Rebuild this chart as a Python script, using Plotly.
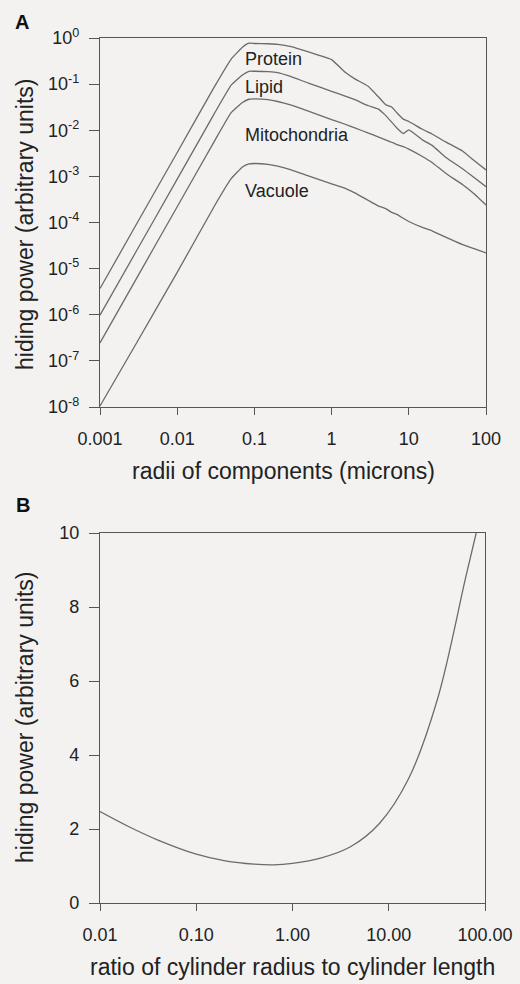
import math
import plotly.graph_objects as go

# ---------------- Panel A data ----------------
radius_um = [0.001, 0.003, 0.01, 0.03, 0.05, 0.07, 0.085, 0.1, 0.15, 0.2, 0.3, 0.5,
             1, 1.5, 2, 3, 4, 5, 6, 7, 8.5, 10, 15, 20, 30, 50, 70, 100]

protein = [3.7e-6, 9.5e-5, 3.3e-3, 0.085, 0.35, 0.63, 0.77, 0.76, 0.75, 0.73, 0.65, 0.50,
           0.34, 0.18, 0.13, 0.089, 0.054, 0.036, 0.032, 0.024, 0.0174, 0.0155, 0.0105,
           0.0083, 0.0056, 0.0035, 0.0022, 0.00138]

lipid = [9.8e-7, 2.5e-5, 8.7e-4, 0.0224, 0.095, 0.158, 0.19, 0.19, 0.186, 0.178, 0.145,
         0.105, 0.07, 0.055, 0.046, 0.034, 0.029, 0.021, 0.015, 0.0112, 0.0085, 0.0102,
         0.0062, 0.0047, 0.0026, 0.00145, 0.00095, 0.0006]

mitochondria = [2.45e-7, 6.3e-6, 2.2e-4, 5.6e-3, 0.024, 0.04, 0.047, 0.048, 0.046, 0.042,
                0.035, 0.026, 0.017, 0.0135, 0.0112, 0.0087, 0.0072, 0.0062, 0.0055,
                0.0049, 0.0044, 0.0039, 0.0027, 0.002, 0.00117, 0.00066, 0.00042, 0.00024]

vacuole = [1.05e-8, 2.5e-7, 8.3e-6, 2.2e-4, 8.9e-4, 1.6e-3, 1.86e-3, 1.9e-3, 1.82e-3,
           1.66e-3, 1.38e-3, 1.02e-3, 6.9e-4, 5.5e-4, 4.4e-4, 3.0e-4, 2.3e-4, 2.0e-4,
           1.66e-4, 1.5e-4, 1.23e-4, 1.05e-4, 7.8e-5, 6.6e-5, 4.8e-5, 3.3e-5, 2.7e-5, 2.2e-5]

series_names = ["Protein", "Lipid", "Mitochondria", "Vacuole"]
label_y = [0.35, 0.085, 0.0079, 0.00048]
label_x = 0.071

a_ytick_vals = [1e0, 1e-1, 1e-2, 1e-3, 1e-4, 1e-5, 1e-6, 1e-7, 1e-8]
a_ytick_text = ["10<sup>0</sup>", "10<sup>-1</sup>", "10<sup>-2</sup>", "10<sup>-3</sup>",
                "10<sup>-4</sup>", "10<sup>-5</sup>", "10<sup>-6</sup>", "10<sup>-7</sup>",
                "10<sup>-8</sup>"]
a_xtick_vals = [0.001, 0.01, 0.1, 1, 10, 100]
a_xtick_text = ["0.001", "0.01", "0.1", "1", "10", "100"]

# ---------------- Panel B data ----------------
ratio = [0.01, 0.02, 0.04, 0.1, 0.2, 0.4, 0.63, 1, 2, 4, 8, 16, 32, 63, 81]
hiding_b = [2.47, 2.06, 1.70, 1.32, 1.14, 1.05, 1.03, 1.07, 1.22, 1.52, 2.15, 3.35,
            5.5, 8.8, 10.0]

b_xtick_vals = [0.01, 0.1, 1, 10, 100]
b_xtick_text = ["0.01", "0.10", "1.00", "10.00", "100.00"]
b_ytick_vals = [0, 2, 4, 6, 8, 10]

# ---------------- Figure ----------------
W, H = 520, 984
FONT = "Liberation Sans, Arial, Helvetica, sans-serif"
LINE = "#6b6b6b"
AX = "#555555"
TXT = "#222222"
BG = "#f3f2f1"

fig = go.Figure()
for name, vals in zip(series_names, [protein, lipid, mitochondria, vacuole]):
    fig.add_trace(go.Scatter(x=radius_um, y=vals, mode="lines", name=name,
                             line=dict(color=LINE, width=1.3, shape="spline", smoothing=0.35),
                             xaxis="x", yaxis="y", showlegend=False))

fig.add_trace(go.Scatter(x=ratio, y=hiding_b, mode="lines",
                         line=dict(color=LINE, width=1.3, shape="spline", smoothing=1.0),
                         xaxis="x2", yaxis="y2", showlegend=False))


def px_x(p):
    return p / W


def px_y(p):
    return 1 - p / H


axis_common = dict(showline=True, linecolor=AX, linewidth=1.2, mirror=True,
                   ticks="outside", tickcolor=AX, tickwidth=1.2,
                   showgrid=False, zeroline=False, automargin=False,
                   tickfont=dict(family=FONT, size=18, color=TXT))

fig.update_layout(
    width=W, height=H,
    margin=dict(l=0, r=0, t=0, b=0, autoexpand=False),
    paper_bgcolor=BG, plot_bgcolor=BG,
    font=dict(family=FONT, color=TXT),
    xaxis=dict(type="log", range=[-3, 2], domain=[px_x(100), px_x(486)],
               anchor="y", tickvals=a_xtick_vals, ticktext=a_xtick_text,
               ticklen=7, ticklabelstandoff=8, **axis_common),
    yaxis=dict(type="log", range=[-8, 0], domain=[px_y(407), px_y(38)],
               anchor="x", tickvals=a_ytick_vals, ticktext=a_ytick_text,
               ticklen=10, ticklabelstandoff=6, **axis_common),
    xaxis2=dict(type="log", range=[-2, 2], domain=[px_x(100), px_x(485)],
                anchor="y2", tickvals=b_xtick_vals, ticktext=b_xtick_text,
                ticklen=7, ticklabelstandoff=8, **axis_common),
    yaxis2=dict(range=[0, 10], domain=[px_y(903), px_y(533)],
                anchor="x2", tickvals=b_ytick_vals,
                ticklen=10, ticklabelstandoff=6, **axis_common),
)

ann = []
for name, yv in zip(series_names, label_y):
    ann.append(dict(x=math.log10(label_x), y=math.log10(yv), xref="x", yref="y",
                    text=name, showarrow=False, xanchor="left", yanchor="middle",
                    font=dict(family=FONT, size=18, color=TXT)))

# panel letters
ann.append(dict(x=px_x(13), y=px_y(22), xref="paper", yref="paper", text="<b>A</b>",
                showarrow=False, xanchor="left", yanchor="middle",
                font=dict(family=FONT, size=20, color="#111")))
ann.append(dict(x=px_x(14), y=px_y(505), xref="paper", yref="paper", text="<b>B</b>",
                showarrow=False, xanchor="left", yanchor="middle",
                font=dict(family=FONT, size=20, color="#111")))

# axis titles
ann.append(dict(x=px_x(283), y=px_y(471), xref="paper", yref="paper",
                text="radii of components (microns)", showarrow=False,
                xanchor="center", yanchor="middle",
                font=dict(family=FONT, size=23, color=TXT)))
ann.append(dict(x=px_x(25), y=px_y(225), xref="paper", yref="paper",
                text="hiding power (arbitrary units)", showarrow=False, textangle=-90,
                xanchor="center", yanchor="middle",
                font=dict(family=FONT, size=23, color=TXT)))
ann.append(dict(x=px_x(292), y=px_y(967), xref="paper", yref="paper",
                text="ratio of cylinder radius to cylinder length", showarrow=False,
                xanchor="center", yanchor="middle",
                font=dict(family=FONT, size=23, color=TXT)))
ann.append(dict(x=px_x(25), y=px_y(718), xref="paper", yref="paper",
                text="hiding power (arbitrary units)", showarrow=False, textangle=-90,
                xanchor="center", yanchor="middle",
                font=dict(family=FONT, size=23, color=TXT)))

fig.update_layout(annotations=ann)
fig.write_html(
    "out.html",
    config={"displayModeBar": False},
    post_script="document.body.style.margin='0';document.body.style.padding='0';"
                "document.body.style.background='#f3f2f1';"
                "document.documentElement.style.overflow='hidden';",
)
